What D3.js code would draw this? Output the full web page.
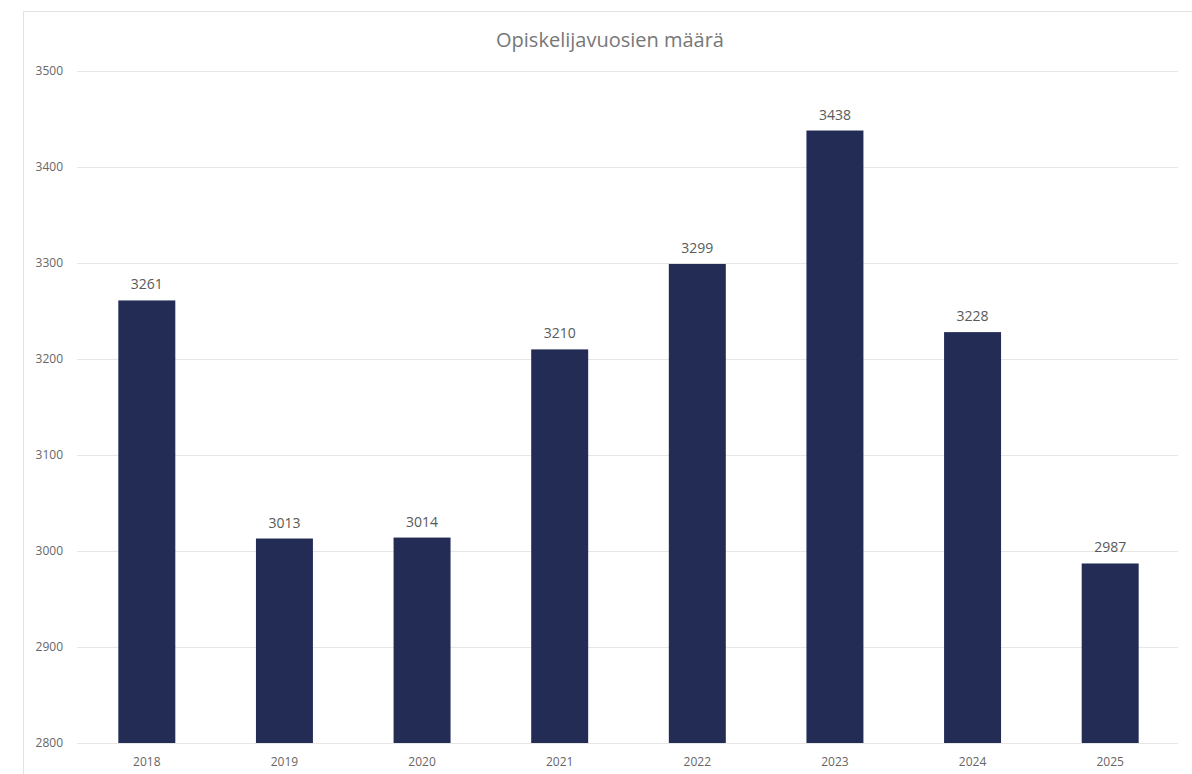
<!DOCTYPE html>
<html><head><meta charset="utf-8">
<script src="https://cdn.jsdelivr.net/npm/d3@7"></script>
<style>body{margin:0;background:#fff;}svg{display:block;font-family:"Open Sans","Noto Sans",sans-serif;}</style>
</head><body>
<svg id="c" width="1192" height="774"></svg>
<script>
const title = "Opiskelijavuosien määrä";
const years = ["2018","2019","2020","2021","2022","2023","2024","2025"];
const values = [3261,3013,3014,3210,3299,3438,3228,2987];
const yTicks = [2800,2900,3000,3100,3200,3300,3400,3500];

const svg = d3.select("#c");
const m = {left:77, right:1178, top:71, bottom:743};
svg.append("rect").attr("x",23.5).attr("y",11.5).attr("width",1200).attr("height",800)
  .attr("fill","#fff").attr("stroke","#e3e3e3");
const x = d3.scaleBand().domain(years).range([m.left+1,m.right+1]).paddingInner(0.586).paddingOuter(0.293);
const y = d3.scaleLinear().domain([2800,3500]).range([m.bottom,m.top]);

svg.append("g").selectAll("line").data(yTicks).join("line")
  .attr("x1",m.left).attr("x2",m.right).attr("y1",d=>Math.round(y(d))+0.5).attr("y2",d=>Math.round(y(d))+0.5)
  .attr("stroke","#e6e6e6");
svg.append("g").selectAll("text").data(yTicks).join("text")
  .attr("x",63).attr("y",d=>y(d)+4).attr("text-anchor","end").attr("font-size",12).attr("fill","#666")
  .text(d=>d);

svg.append("g").selectAll("rect").data(values).join("rect")
  .attr("x",(d,i)=>x(years[i])).attr("width",x.bandwidth())
  .attr("y",d=>y(d)).attr("height",d=>y(2800)-y(d)).attr("fill","#222c55");
svg.append("g").selectAll("text").data(values).join("text")
  .attr("x",(d,i)=>x(years[i])+x.bandwidth()/2).attr("y",d=>y(d)-11)
  .attr("text-anchor","middle").attr("font-size",14).attr("fill","#595959").text(d=>d);

svg.append("g").selectAll("text").data(years).join("text")
  .attr("x",d=>x(d)+x.bandwidth()/2).attr("y",766).attr("text-anchor","middle")
  .attr("font-size",12).attr("fill","#666").text(d=>d);

svg.append("text").attr("x",610).attr("y",47).attr("text-anchor","middle")
  .attr("font-size",20).attr("fill","#777").text(title);
</script>
</body></html>
